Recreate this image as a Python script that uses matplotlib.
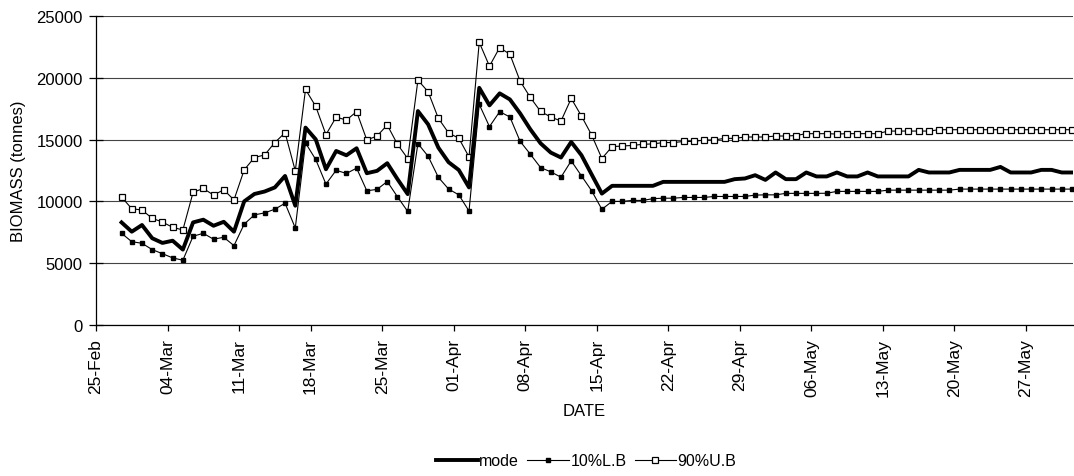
import numpy as np
import pandas as pd
import matplotlib
matplotlib.use("Agg")
import matplotlib.pyplot as plt
import matplotlib.dates as mdates

plt.rcParams['font.family'] = ['Liberation Sans', 'DejaVu Sans']

# daily values, 27-Feb .. 31-May
mode = [8300, 7550, 8090, 7020, 6640, 6820, 6100, 8300, 8520, 8030,
        8350, 7550, 10000, 10600, 10800, 11130, 12060, 9650, 15970, 15020,
        12600, 14080, 13730, 14300, 12280, 12470, 13090, 11800, 10590, 17310,
        16230, 14350, 13170, 12540, 11130, 19190, 17770, 18740, 18250, 17120,
        15830, 14700, 13950, 13550, 14810, 13740, 12180, 10630, 11260, 11260,
        11260, 11260, 11260, 11580, 11580, 11580, 11580, 11580, 11580, 11580,
        11800, 11855, 12120, 11740, 12340, 11800, 11800, 12340, 12020, 12020,
        12340, 12020, 12020, 12340, 12020, 12020, 12020, 12020, 12550, 12340,
        12340, 12340, 12550, 12550, 12550, 12550, 12790, 12340, 12340, 12340,
        12550, 12550, 12340, 12340]

lower = [7420, 6740, 6610, 6100, 5770, 5430, 5240, 7180, 7420, 6940,
         7100, 6420, 8160, 8910, 9070, 9370, 9850, 7850, 14730, 13390,
         11400, 12520, 12260, 12690, 10860, 10970, 11610, 10370, 9190, 14680,
         13650, 11950, 11000, 10530, 9220, 17850, 16050, 17260, 16830, 14860,
         13820, 12740, 12390, 11960, 13280, 12070, 10860, 9360, 10000, 10000,
         10080, 10080, 10220, 10260, 10260, 10320, 10320, 10320, 10400, 10400,
         10400, 10400, 10510, 10530, 10530, 10650, 10650, 10650, 10650, 10660,
         10810, 10810, 10810, 10810, 10810, 10910, 10910, 10910, 10910, 10910,
         10910, 10910, 10995, 10995, 10995, 10995, 10995, 10995, 10995, 10995,
         10995, 10995, 10995, 10995]

upper = [10350, 9410, 9300, 8630, 8330, 7900, 7690, 10730, 11050, 10510,
         10940, 10120, 12550, 13550, 13760, 14760, 15560, 12470, 19060, 17690,
         15400, 16820, 16580, 17260, 14970, 15290, 16180, 14620, 13470, 19810,
         18870, 16720, 15540, 15110, 13600, 22870, 20940, 22450, 21900, 19730,
         18410, 17280, 16830, 16500, 18330, 16910, 15370, 13470, 14430, 14480,
         14530, 14620, 14650, 14760, 14760, 14850, 14850, 14970, 14970, 15100,
         15100, 15210, 15210, 15210, 15290, 15290, 15330, 15480, 15480, 15480,
         15450, 15480, 15480, 15480, 15480, 15690, 15690, 15690, 15690, 15690,
         15800, 15800, 15800, 15800, 15800, 15800, 15800, 15800, 15800, 15800,
         15800, 15800, 15800, 15800]

dates = pd.date_range('2005-02-27', periods=len(mode), freq='D') + pd.Timedelta(hours=12)
tick_dates = pd.date_range('2005-02-25', '2005-05-27', freq='7D')

fig = plt.figure(figsize=(10.74, 4.77), dpi=100)
ax = fig.add_axes([96/1074, 1-326/477, 977/1074, 309/477])

ax.plot(dates, mode, color='black', lw=2.8, label='mode', zorder=4)
ax.plot(dates, lower, color='black', lw=0.8, marker='s', ms=3.4,
        label='10%L.B', zorder=3)
ax.plot(dates, upper, color='black', lw=0.8, marker='s', ms=5,
        mfc='white', mew=0.9, label='90%U.B', zorder=3)

ax.set_ylim(0, 25000)
ax.set_yticks(np.arange(0, 25001, 5000))
ax.set_xlim(pd.Timestamp('2005-02-25'), pd.Timestamp('2005-02-25') + pd.Timedelta(days=95.6))
ax.set_xticks(tick_dates)
ax.xaxis.set_major_formatter(mdates.DateFormatter('%d-%b'))
plt.setp(ax.get_xticklabels(), rotation=90)

ax.grid(axis='y', color='#444444', lw=0.8)
ax.set_axisbelow(True)
for s in ['top', 'right']:
    ax.spines[s].set_visible(False)
ax.spines['left'].set_linewidth(0.9)
ax.spines['bottom'].set_linewidth(0.9)
ax.tick_params(axis='y', direction='inout', length=10, width=0.9, labelsize=12, pad=4.5)
ax.tick_params(axis='x', direction='out', length=4.5, width=0.9, labelsize=12.5, pad=5)

ax.set_ylabel('BIOMASS (tonnes)', fontsize=12)
ax.yaxis.set_label_coords(-0.079, 0.5)
ax.yaxis.label.set_va('center')
ax.set_xlabel('DATE', fontsize=12)
ax.xaxis.set_label_coords(0.5, -0.278)
ax.xaxis.label.set_va('center')

fig.legend(loc='center', bbox_to_anchor=(0.546, 0.032), ncol=3, frameon=False,
           fontsize=11.5, handlelength=2.6, columnspacing=0.5, handletextpad=0.1)

fig.savefig('out.png', dpi=100)
